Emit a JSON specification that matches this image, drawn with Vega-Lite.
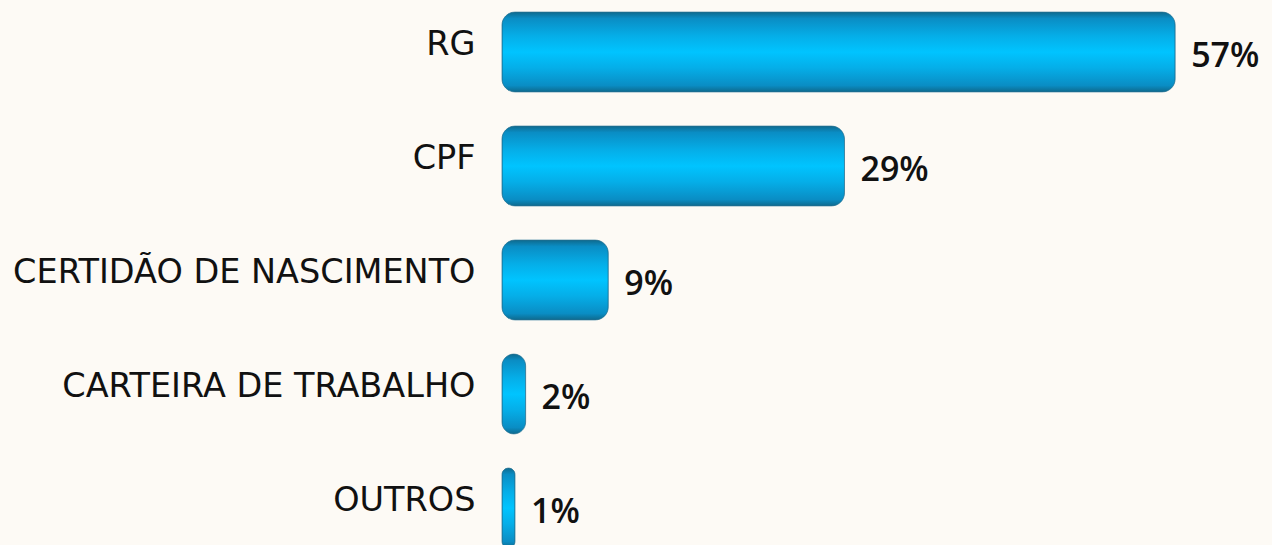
{
  "$schema": "https://vega.github.io/schema/vega-lite/v6.json",
  "width": 770,
  "height": 545,
  "autosize": {"type": "none"},
  "padding": {"left": 502, "top": 0, "right": 0, "bottom": 0},
  "background": "#FDFAF5",
  "config": {"view": {"stroke": null}},
  "data": {
    "values": [
      {"doc": "RG", "value": 57, "label": "57%"},
      {"doc": "CPF", "value": 29, "label": "29%"},
      {"doc": "CERTIDÃO DE NASCIMENTO", "value": 9, "label": "9%"},
      {"doc": "CARTEIRA DE TRABALHO", "value": 2, "label": "2%"},
      {"doc": "OUTROS", "value": 1.1, "label": "1%"}
    ]
  },
  "encoding": {
    "y": {
      "field": "doc",
      "type": "nominal",
      "sort": null,
      "scale": {"range": [-5, 565], "paddingInner": 0.3, "paddingOuter": 0.15},
      "axis": {
        "title": null,
        "domain": false,
        "ticks": false,
        "grid": false,
        "labelPadding": 27,
        "labelOffset": -7,
        "labelFont": "DejaVu Sans",
        "labelFontSize": 33.5,
        "labelColor": "#111111",
        "labelLimit": 600
      }
    },
    "x": {
      "field": "value",
      "type": "quantitative",
      "scale": {"domain": [0, 65.2], "nice": false, "zero": true},
      "axis": null
    }
  },
  "layer": [
    {
      "mark": {
        "type": "bar",
        "cornerRadius": 13,
        "stroke": "#1F6F92",
        "strokeWidth": 1,
        "strokeOpacity": 0.7,
        "color": {
          "gradient": "linear",
          "x1": 0, "y1": 0, "x2": 0, "y2": 1,
          "stops": [
            {"offset": 0, "color": "#0E6A8E"},
            {"offset": 0.08, "color": "#0A8DC4"},
            {"offset": 0.3, "color": "#05AEE8"},
            {"offset": 0.5, "color": "#00C4FF"},
            {"offset": 0.7, "color": "#05AEE8"},
            {"offset": 0.92, "color": "#0A8DC4"},
            {"offset": 1, "color": "#0E6A8E"}
          ]
        }
      }
    },
    {
      "mark": {
        "type": "text",
        "align": "left",
        "baseline": "middle",
        "dx": 16,
        "dy": 5,
        "font": "Open Sans",
        "fontWeight": 600,
        "fontSize": 34,
        "color": "#111111"
      },
      "encoding": {"text": {"field": "label"}}
    }
  ]
}
